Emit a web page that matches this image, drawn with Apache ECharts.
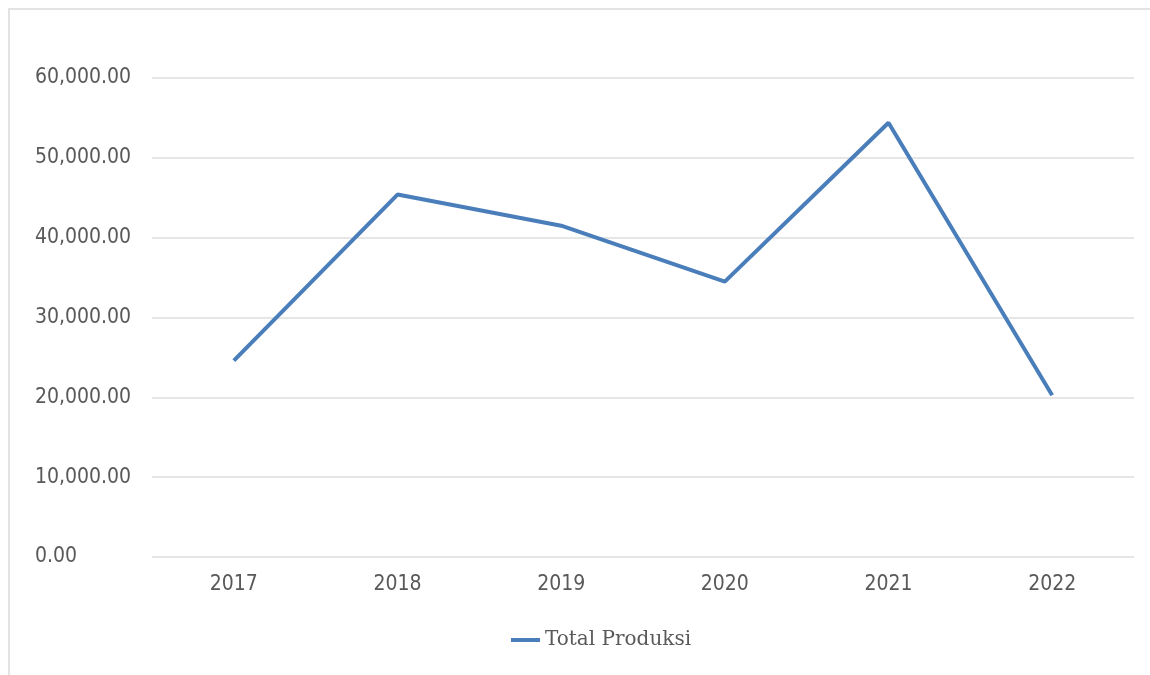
<!DOCTYPE html>
<html>
<head>
<meta charset="utf-8">
<script src="https://cdn.jsdelivr.net/npm/echarts@6/dist/echarts.min.js"></script>
<style>
html,body{margin:0;padding:0;background:#fff;}
#chart{width:1150px;height:675px;}
</style>
</head>
<body>
<div id="chart"></div>
<script>
const categories = ['2017', '2018', '2019', '2020', '2021', '2022'];
const totalProduksi = [24600, 45400, 41500, 34500, 54400, 20250];
const seriesName = 'Total Produksi';

const chart = echarts.init(document.getElementById('chart'));
const labelFont = '"DejaVu Sans Condensed", "DejaVu Sans", sans-serif';
chart.setOption({
  animation: false,
  backgroundColor: '#ffffff',
  graphic: [{
    type: 'rect',
    shape: { x: 9, y: 9, width: 1200, height: 800 },
    style: { fill: 'none', stroke: '#e3e3e3', lineWidth: 2 },
    silent: true
  }],
  grid: { left: 152, right: 16, top: 78, bottom: 118, containLabel: false },
  legend: {
    data: [seriesName],
    bottom: 20,
    left: 506,
    icon: 'rect',
    itemWidth: 29,
    itemHeight: 4,
    itemGap: 6,
    textStyle: { color: '#595959', fontSize: 20, fontFamily: '"DejaVu Serif", serif' }
  },
  xAxis: {
    type: 'category',
    data: categories,
    boundaryGap: true,
    axisLine: { show: false },
    axisTick: { show: false },
    axisLabel: { color: '#595959', fontSize: 21, margin: 17, fontFamily: labelFont },
    splitLine: { show: false }
  },
  yAxis: {
    type: 'value',
    min: 0,
    max: 60000,
    interval: 10000,
    axisLine: { show: false },
    axisTick: { show: false },
    axisLabel: {
      color: '#595959', fontSize: 21, fontFamily: labelFont,
      align: 'left', margin: 117, padding: [4, 0, 0, 0],
      formatter: v => v.toLocaleString('en-US', { minimumFractionDigits: 2, maximumFractionDigits: 2 })
    },
    splitLine: { lineStyle: { color: '#e6e6e6', width: 2 } }
  },
  series: [{
    name: seriesName,
    type: 'line',
    data: totalProduksi,
    symbol: 'none',
    lineStyle: { color: '#4a7ebb', width: 4 },
    itemStyle: { color: '#4a7ebb' }
  }]
});
</script>
</body>
</html>
